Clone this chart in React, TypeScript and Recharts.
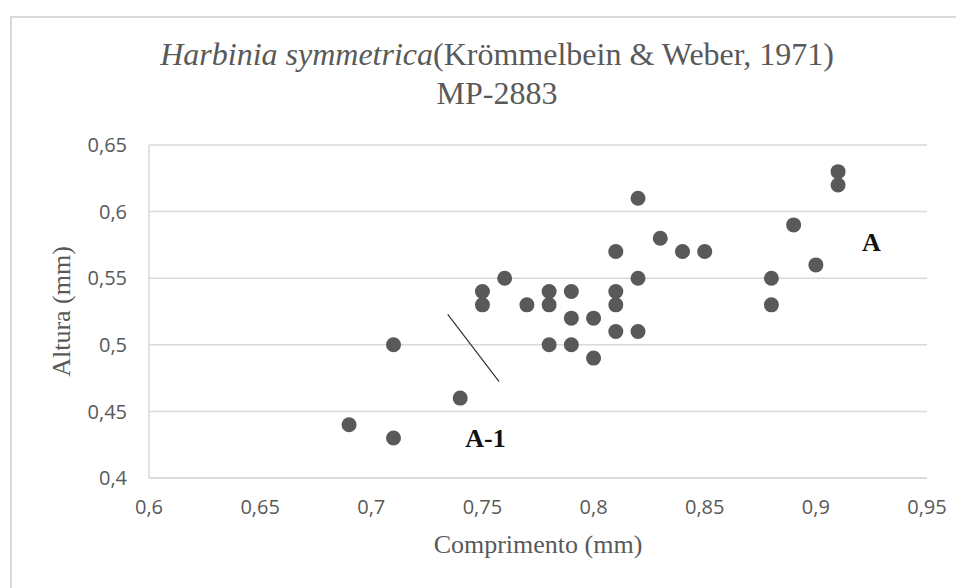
import React from "react"
import {
  ScatterChart,
  Scatter,
  XAxis,
  YAxis,
  CartesianGrid,
  ReferenceLine,
  ReferenceDot,
} from "recharts"

const comprimento = [
  0.69, 0.71, 0.71, 0.74, 0.75, 0.75, 0.76, 0.77, 0.78, 0.78, 0.78, 0.79, 0.79, 0.79, 0.8, 0.8,
  0.81, 0.81, 0.81, 0.81, 0.82, 0.82, 0.82, 0.83, 0.84, 0.85, 0.88, 0.88, 0.89, 0.9, 0.91, 0.91,
]
const altura = [
  0.44, 0.5, 0.43, 0.46, 0.54, 0.53, 0.55, 0.53, 0.54, 0.53, 0.5, 0.54, 0.52, 0.5, 0.52, 0.49,
  0.57, 0.54, 0.53, 0.51, 0.61, 0.55, 0.51, 0.58, 0.57, 0.57, 0.55, 0.53, 0.59, 0.56, 0.63, 0.62,
]

const xTicks = [0.6, 0.65, 0.7, 0.75, 0.8, 0.85, 0.9, 0.95]
const yTicks = [0.4, 0.45, 0.5, 0.55, 0.6, 0.65]

// divider line between groups, and the group labels (label y = baseline)
const dividerStart = { x: 0.7344, y: 0.5229 }
const dividerEnd = { x: 0.7575, y: 0.4723 }
const groupLabels = [
  { name: "A-1", x: 0.7514, y: 0.4233 },
  { name: "A", x: 0.925, y: 0.5706 },
]

const data = comprimento.map((c, i) => ({ c, a: altura[i] }))

const comma = (v: number) => String(v).replace(".", ",")

const serif = "'Liberation Serif', 'Times New Roman', serif"
const sans = "'Open Sans', 'Liberation Sans', sans-serif"
const grey = "#595959"

function Dot(props: any) {
  const { cx, cy } = props
  return <circle cx={cx} cy={cy} r={7.5} fill={grey} />
}

function GroupLabel({ viewBox, value }: any) {
  const cx = viewBox.x + (viewBox.width || 0) / 2
  const cy = viewBox.y + (viewBox.height || 0) / 2
  return (
    <text
      x={cx}
      y={cy}
      textAnchor="middle"
      fontFamily={serif}
      fontWeight="bold"
      fontSize={26}
      fill="#111"
    >
      {value}
    </text>
  )
}

export default function App() {
  return (
    <div style={{ position: "relative", width: 956, height: 580, overflow: "hidden" }}>
      <div
        style={{
          position: "absolute",
          left: 2,
          top: 8,
          width: 1000,
          height: 600,
          borderTop: "2px solid #d9d9d9",
          borderLeft: "2px solid #d9d9d9",
          background: "#fff",
        }}
      >
        {/* Title */}
        <div
          style={{
            position: "absolute",
            left: 0,
            top: 17,
            width: 970,
            textAlign: "center",
            fontFamily: serif,
            fontSize: 32,
            lineHeight: "39px",
            color: grey,
            whiteSpace: "nowrap",
          }}
        >
          <div>
            <i>Harbinia symmetrica</i>(Krömmelbein &amp; Weber, 1971)
          </div>
          <div>MP-2883</div>
        </div>

        <ScatterChart
          width={952}
          height={570}
          margin={{ top: 127, right: 37, bottom: 0, left: 0 }}
        >
          <CartesianGrid vertical={false} stroke="#d9d9d9" strokeWidth={1.5} />
          <XAxis
            type="number"
            dataKey="c"
            domain={[0.6, 0.95]}
            ticks={xTicks}
            tickFormatter={comma}
            axisLine={{ stroke: "#d9d9d9", strokeWidth: 1.5 }}
            tickLine={false}
            tickMargin={16}
            tick={{ fill: grey, fontSize: 20, fontFamily: sans }}
            height={110}
            label={({ viewBox }: any) => (
              <text
                x={viewBox.x + viewBox.width / 2}
                y={535}
                textAnchor="middle"
                fontFamily={serif}
                fontSize={26}
                fill={grey}
              >
                Comprimento (mm)
              </text>
            )}
          />
          <YAxis
            type="number"
            dataKey="a"
            domain={[0.4, 0.65]}
            ticks={yTicks}
            tickFormatter={comma}
            axisLine={{ stroke: "#d9d9d9", strokeWidth: 1.5 }}
            tickLine={false}
            tickMargin={16}
            tick={{ fill: grey, fontSize: 20, fontFamily: sans }}
            width={137}
            label={({ viewBox }: any) => {
              const cy = viewBox.y + viewBox.height / 2
              return (
                <text
                  x={58}
                  y={cy}
                  transform={`rotate(-90 58 ${cy})`}
                  textAnchor="middle"
                  fontFamily={serif}
                  fontSize={26}
                  fill={grey}
                >
                  Altura (mm)
                </text>
              )
            }}
          />
          <Scatter data={data} shape={<Dot />} isAnimationActive={false} />
          <ReferenceLine
            segment={[dividerStart, dividerEnd]}
            stroke="#333"
            strokeWidth={1.2}
            ifOverflow="visible"
          />
          {groupLabels.map((g) => (
            <ReferenceDot
              key={g.name}
              x={g.x}
              y={g.y}
              r={0}
              fill="none"
              stroke="none"
              label={<GroupLabel value={g.name} />}
            />
          ))}
        </ScatterChart>
      </div>
    </div>
  )
}
